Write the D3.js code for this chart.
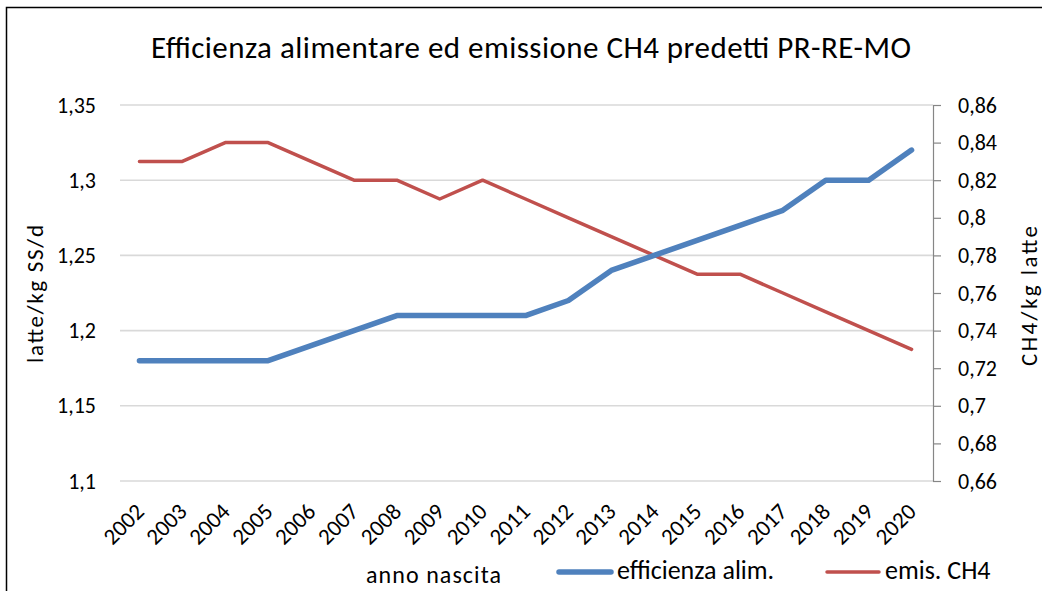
<!DOCTYPE html>
<html lang="it">
<head>
  <meta charset="UTF-8" />
  <script src="https://d3js.org/d3.v7.min.js"></script>
  <title>Efficienza alimentare ed emissione CH4</title>
  <style>
    body { margin: 0; background: #fff; }
    text { font-family: Carlito, Calibri, "Open Sans", sans-serif; fill: #000; }
  </style>
</head>
<body>
  <div id="chart"></div>
  <script>
    const years = ["2002","2003","2004","2005","2006","2007","2008","2009","2010","2011",
                   "2012","2013","2014","2015","2016","2017","2018","2019","2020"];
    const efficienza = [1.18,1.18,1.18,1.18,1.19,1.20,1.21,1.21,1.21,1.21,
                        1.22,1.24,1.25,1.26,1.27,1.28,1.30,1.30,1.32];
    const emisCH4 = [0.83,0.83,0.84,0.84,0.83,0.82,0.82,0.81,0.82,0.81,
                     0.80,0.79,0.78,0.77,0.77,0.76,0.75,0.74,0.73];
    const leftTicks = [1.1,1.15,1.2,1.25,1.3,1.35];
    const rightTicks = [0.66,0.68,0.7,0.72,0.74,0.76,0.78,0.8,0.82,0.84,0.86];

    const width = 1042, height = 591;
    const margin = { top: 105, right: 109, bottom: 110, left: 118 };
    const fmt = v => String(+v.toFixed(2)).replace(".", ",");

    const svg = d3.select("#chart").append("svg")
      .attr("width", width)
      .attr("height", height);

    // outer frame (runs off the right and bottom edge)
    svg.append("rect")
      .attr("x", 6.5).attr("y", 7.5)
      .attr("width", width).attr("height", height)
      .attr("fill", "none")
      .attr("stroke", "#000")
      .attr("stroke-width", 1.5);

    const x = d3.scaleBand()
      .domain(years)
      .range([margin.left, width - margin.right]);

    const yL = d3.scaleLinear()
      .domain([1.1, 1.35])
      .range([height - margin.bottom, margin.top]);

    const yR = d3.scaleLinear()
      .domain([0.66, 0.86])
      .range([height - margin.bottom, margin.top]);

    const cx = d => x(d) + x.bandwidth() / 2;

    // gridlines
    svg.append("g")
      .selectAll("line")
      .data(leftTicks)
      .join("line")
      .attr("x1", margin.left + 2)
      .attr("x2", width - margin.right)
      .attr("y1", d => yL(d))
      .attr("y2", d => yL(d))
      .attr("stroke", "#d9d9d9")
      .attr("stroke-width", 1.6);

    // left axis labels
    const gl = svg.append("g")
      .attr("transform", `translate(${margin.left},0)`)
      .call(d3.axisLeft(yL).tickValues(leftTicks).tickFormat(fmt).tickSize(0).tickPadding(22));
    gl.select(".domain").remove();
    gl.selectAll("text").attr("font-size", "22px").attr("font-family", null);

    // right axis
    const gr = svg.append("g")
      .attr("transform", `translate(${width - margin.right},0)`)
      .call(d3.axisRight(yR).tickValues(rightTicks).tickFormat(fmt).tickSize(8).tickSizeOuter(0).tickPadding(17));
    gr.select(".domain").attr("stroke", "#868686").attr("stroke-width", 1.2);
    gr.selectAll(".tick line").attr("stroke", "#868686").attr("stroke-width", 1.2);
    gr.selectAll("text").attr("font-size", "22px").attr("font-family", null);

    // x axis labels, rotated
    const gx = svg.append("g")
      .attr("transform", `translate(0,${height - margin.bottom})`)
      .call(d3.axisBottom(x).tickSize(0).tickPadding(0));
    gx.select(".domain").remove();
    gx.selectAll("text")
      .attr("font-size", "23px")
      .attr("font-family", null)
      .attr("text-anchor", "end")
      .attr("y", 0)
      .attr("dy", 0)
      .attr("transform", "translate(6,32) rotate(-45)");

    // lines
    svg.append("path")
      .datum(emisCH4)
      .attr("fill", "none")
      .attr("stroke", "#c0504d")
      .attr("stroke-width", 3.5)
      .attr("stroke-linejoin", "round")
      .attr("stroke-linecap", "round")
      .attr("d", d3.line().x((d, i) => cx(years[i])).y(d => yR(d)));

    svg.append("path")
      .datum(efficienza)
      .attr("fill", "none")
      .attr("stroke", "#4f81bd")
      .attr("stroke-width", 5.5)
      .attr("stroke-linejoin", "round")
      .attr("stroke-linecap", "round")
      .attr("d", d3.line().x((d, i) => cx(years[i])).y(d => yL(d)));

    // title
    svg.append("text")
      .attr("x", 531)
      .attr("y", 58)
      .attr("text-anchor", "middle")
      .attr("font-size", "31px")
      .attr("textLength", 760)
      .text("Efficienza alimentare ed emissione CH4 predetti PR-RE-MO");

    // axis titles
    svg.append("text")
      .attr("transform", "translate(43,294) rotate(-90)")
      .attr("text-anchor", "middle")
      .attr("font-size", "23px")
      .attr("textLength", 138)
      .text("latte/kg SS/d");

    svg.append("text")
      .attr("transform", "translate(1037,296) rotate(-90)")
      .attr("text-anchor", "middle")
      .attr("font-size", "23px")
      .attr("textLength", 140)
      .text("CH4/kg latte");

    svg.append("text")
      .attr("x", 366)
      .attr("y", 583)
      .attr("font-size", "24px")
      .attr("textLength", 135)
      .text("anno nascita");

    // legend
    const legend = [
      { label: "efficienza alim.", color: "#4f81bd", w: 5.5, x: 557 },
      { label: "emis. CH4", color: "#c0504d", w: 3.5, x: 825 }
    ];
    const lg = svg.append("g").selectAll("g").data(legend).join("g")
      .attr("transform", d => `translate(${d.x},572)`);
    lg.append("line")
      .attr("x1", 2).attr("x2", 54)
      .attr("stroke", d => d.color)
      .attr("stroke-width", d => d.w)
      .attr("stroke-linecap", "round");
    lg.append("text")
      .attr("x", 60)
      .attr("y", 7)
      .attr("font-size", "26px")
      .text(d => d.label);
  </script>
</body>
</html>
